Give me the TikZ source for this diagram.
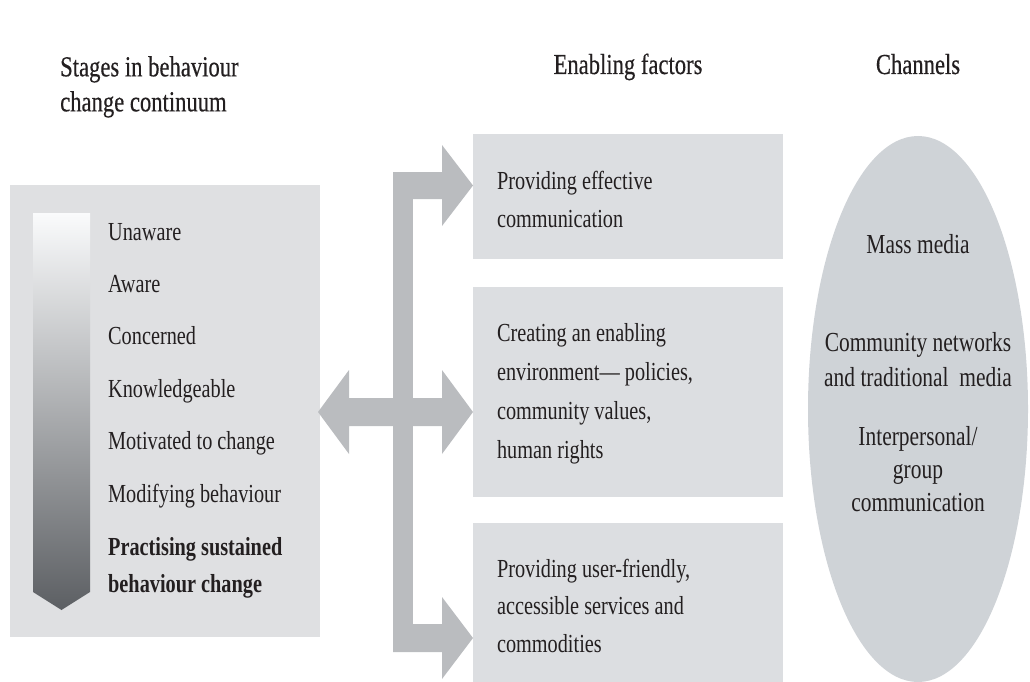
\documentclass[tikz,border=0pt]{standalone}
\usepackage{fontspec}
\setmainfont[FakeStretch=0.78]{Liberation Serif}
\newfontfamily\headfont[FakeStretch=0.78,FakeBold=0.4]{Liberation Serif}
\usetikzlibrary{shapes.geometric}

\definecolor{boxgray}{RGB}{220,222,225}
\definecolor{panelgray}{RGB}{223,224,226}
\definecolor{ovalgray}{RGB}{207,211,215}
\definecolor{arrowgray}{RGB}{186,188,191}
\definecolor{inkgray}{RGB}{35,31,32}
\definecolor{barlight}{RGB}{250,251,252}
\definecolor{barmid}{RGB}{172,175,178}
\definecolor{bardark}{RGB}{92,95,99}

\tikzset{
  heading/.style={font=\headfont\fontsize{29}{35}\selectfont, text=inkgray, inner sep=0pt},
  stage/.style={font=\fontsize{26}{35}\selectfont, text=inkgray, anchor=base west, inner sep=0pt},
  factor/.style={fill=boxgray, minimum width=310pt, inner sep=0pt},
  factortext/.style={anchor=west, xshift=24pt, align=left, inner sep=0pt,
    font=\fontsize{26}{37.5}\selectfont, text=inkgray},
  channel/.style={font=\fontsize{27.5}{34}\selectfont, text=inkgray, align=center,
    anchor=north, inner sep=0pt},
}

\begin{document}
\begin{tikzpicture}[x=1pt,y=-1pt]
  \useasboundingbox (0,0) rectangle (1030,682);

  % column headings
  \node[heading, anchor=north west, align=left] (stagehead) at (60,56) {Stages in behaviour\\change continuum};
  \node[heading, anchor=base] (factorhead) at (628,74) {Enabling factors};
  \node[heading, anchor=base] (channelhead) at (918,74) {Channels};

  % stages panel with shaded bar
  \node[fill=panelgray, minimum width=310pt, minimum height=452pt, inner sep=0pt] (stages) at (165,411) {};
  \shade[top color=barlight, middle color=barmid, bottom color=bardark]
    (33,213) -- (90,213) -- (90,592) -- (61.5,610) -- (33,592) -- cycle;
  \foreach \name/\txt [count=\i from 0] in {unaware/Unaware, aware/Aware, concerned/Concerned,
      knowledgeable/Knowledgeable, motivated/Motivated to change, modifying/Modifying behaviour}
    \node[stage] (\name) at (108,{240+52.4*\i}) {\txt};
  \node[stage, anchor=north west, align=left, font=\fontsize{26}{37}\selectfont\bfseries]
    (sustained) at (108,537) {Practising sustained\\behaviour change};

  % enabling factors
  \node[factor, minimum height=125pt] (effective) at (628,196.5) {};
  \node[factortext] (effectivetext) at ([yshift=-3pt]effective.west) {Providing effective\\communication};
  \node[factor, minimum height=210pt] (environment) at (628,392) {};
  \node[factortext, font=\fontsize{26}{39}\selectfont] (environmenttext) at ([yshift=-2pt]environment.west) {Creating an enabling\\environment--- policies,\\community values,\\human rights};
  \node[factor, minimum height=167pt] (services) at (628,606.5) {};
  \node[factortext] (servicestext) at ([yshift=1pt]services.west) {Providing user-friendly,\\accessible services and\\commodities};

  % fork of arrows between stages and factors
  \fill[arrowgray] (393,172) rectangle (413,652);
  \fill[arrowgray] (393,172) rectangle (442,199)
    (442,145) -- (473,185.5) -- (442,226) -- cycle;
  \fill[arrowgray] (349,398) rectangle (442,426)
    (349,370) -- (318,412) -- (349,454) -- cycle
    (442,370) -- (473,412) -- (442,454) -- cycle;
  \fill[arrowgray] (393,624) rectangle (442,652)
    (442,597) -- (473,638) -- (442,679) -- cycle;

  % channels
  \node[ellipse, fill=ovalgray, minimum width=220pt, minimum height=546pt, inner sep=0pt] (channels) at (918,409) {};
  \node[channel] (mass) at (918,234) {Mass media};
  \node[channel, font=\fontsize{27.5}{35}\selectfont] (community) at (918,332) {Community networks\\and traditional\ \ media};
  \node[channel, font=\fontsize{27.5}{33}\selectfont] (interpersonal) at (918,426) {Interpersonal/\\group\\communication};
\end{tikzpicture}
\end{document}
